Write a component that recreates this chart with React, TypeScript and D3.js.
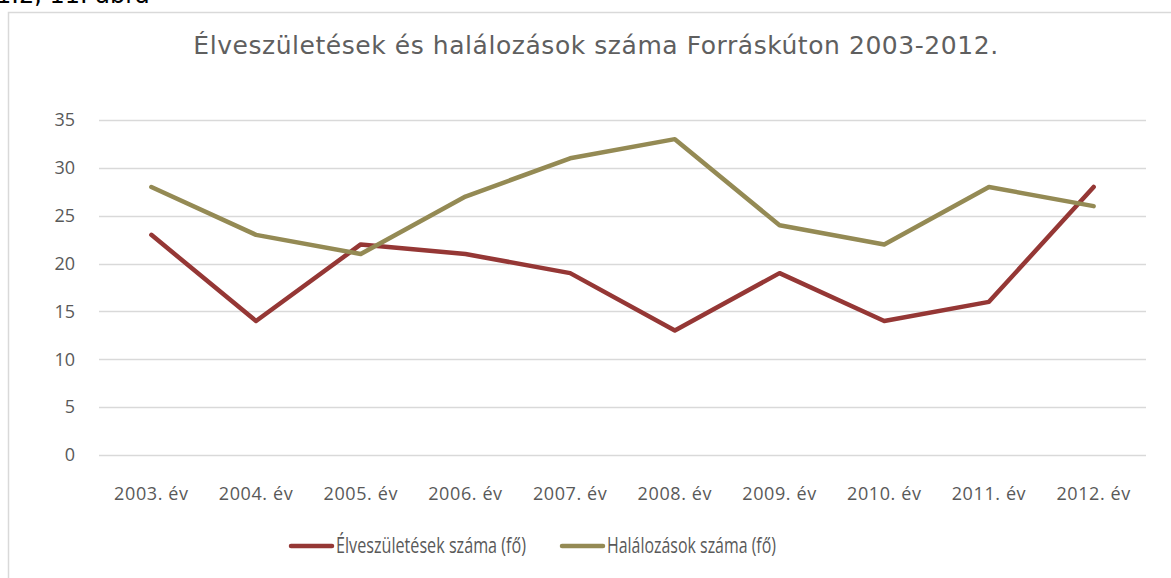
import React, { useEffect, useRef } from 'react';
import * as d3 from 'd3';

const years = ['2003. év', '2004. év', '2005. év', '2006. év', '2007. év', '2008. év', '2009. év', '2010. év', '2011. év', '2012. év'];
const births = [23, 14, 22, 21, 19, 13, 19, 14, 16, 28];
const deaths = [28, 23, 21, 27, 31, 33, 24, 22, 28, 26];
const yTicks = [0, 5, 10, 15, 20, 25, 30, 35];

const seriesNames = ['Élveszületések száma (fő)', 'Halálozások száma (fő)'];
const seriesColors = ['#953735', '#948A54'];

const W = 1171;
const H = 578;

const App: React.FC = () => {
  const ref = useRef<SVGSVGElement>(null);

  useEffect(() => {
    const svg = d3.select(ref.current);
    svg.selectAll('*').remove();

    const plot = { left: 99, right: 1146, top: 120, bottom: 455 };

    const x = d3.scaleBand().domain(years).range([plot.left, plot.right]);
    const y = d3.scaleLinear().domain([0, 35]).range([plot.bottom, plot.top]);

    // caption, cut off by the top of the page
    svg.append('text')
      .attr('x', -4)
      .attr('y', 3)
      .style('font-family', 'Verdana, "DejaVu Sans", sans-serif')
      .style('font-size', '24px')
      .attr('fill', '#000')
      .text('1.2, 11. ábra');

    // chart frame
    svg.append('rect')
      .attr('x', 8.5)
      .attr('y', 12.5)
      .attr('width', W)
      .attr('height', H)
      .attr('fill', '#fff')
      .attr('stroke', '#d9d9d9')
      .attr('stroke-width', 1.5);

    svg.append('text')
      .attr('x', 596)
      .attr('y', 54)
      .attr('text-anchor', 'middle')
      .style('font-family', '"DejaVu Sans", Verdana, sans-serif')
      .style('font-size', '25px')
      .style('letter-spacing', '0.55px')
      .attr('fill', '#5f5f5f')
      .text('Élveszületések és halálozások száma Forráskúton 2003-2012.');

    // gridlines
    svg.append('g')
      .selectAll('line')
      .data(yTicks)
      .join('line')
      .attr('x1', plot.left)
      .attr('x2', plot.right)
      .attr('y1', d => Math.round(y(d)) + 0.5)
      .attr('y2', d => Math.round(y(d)) + 0.5)
      .attr('stroke', '#d9d9d9')
      .attr('stroke-width', 1.5);

    const labelFont = '"Open Sans", "DejaVu Sans", sans-serif';

    svg.append('g')
      .selectAll('text')
      .data(yTicks)
      .join('text')
      .attr('x', 75)
      .attr('y', d => y(d))
      .attr('dy', '0.35em')
      .attr('text-anchor', 'end')
      .style('font-family', labelFont)
      .style('font-size', '18px')
      .attr('fill', '#595959')
      .text(d => d);

    svg.append('g')
      .selectAll('text')
      .data(years)
      .join('text')
      .attr('x', d => x(d)! + x.bandwidth() / 2)
      .attr('y', 500)
      .attr('text-anchor', 'middle')
      .style('font-family', labelFont)
      .style('font-size', '18px')
      .style('letter-spacing', '0.6px')
      .attr('fill', '#595959')
      .text(d => d);

    const line = d3.line<number>()
      .x((d, i) => x(years[i])! + x.bandwidth() / 2)
      .y(d => y(d));

    [births, deaths].forEach((vals, k) => {
      svg.append('path')
        .datum(vals)
        .attr('d', line)
        .attr('fill', 'none')
        .attr('stroke', seriesColors[k])
        .attr('stroke-width', 4.5)
        .attr('stroke-linejoin', 'round')
        .attr('stroke-linecap', 'round');
    });

    // legend
    const legendX = [291, 562];
    const legendTextW = [190, 169];
    seriesNames.forEach((name, k) => {
      const g = svg.append('g').attr('transform', `translate(${legendX[k]},546)`);
      g.append('line')
        .attr('x1', 0)
        .attr('x2', 41)
        .attr('stroke', seriesColors[k])
        .attr('stroke-width', 4.5)
        .attr('stroke-linecap', 'round');
      g.append('text')
        .attr('x', 45)
        .attr('dy', '0.35em')
        .attr('textLength', legendTextW[k])
        .attr('lengthAdjust', 'spacingAndGlyphs')
        .style('font-family', '"Open Sans", sans-serif')
        .style('font-size', '21px')
        .attr('fill', '#595959')
        .text(name);
    });
  }, []);

  return (
    <div style={{ position: 'absolute', left: 0, top: 0, background: '#fff' }}>
      <svg ref={ref} width={W} height={H} style={{ display: 'block' }} />
    </div>
  );
};

export default App;
